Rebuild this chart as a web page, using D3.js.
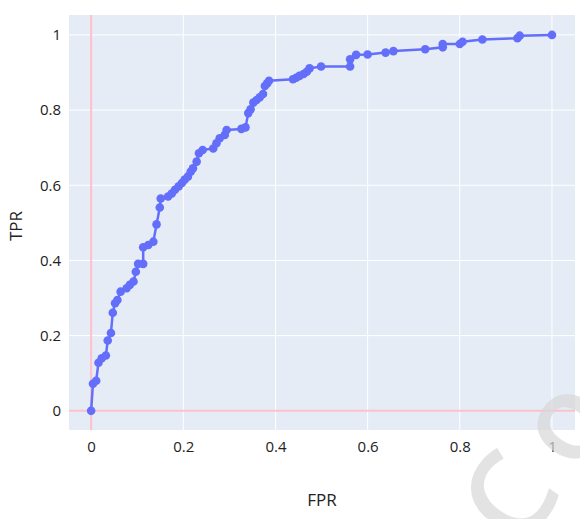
<!DOCTYPE html>
<html>
<head>
<meta charset="utf-8">
<script src="https://cdn.jsdelivr.net/npm/d3@7"></script>
<style>
  body { margin: 0; background: #fff; }
  text { font-family: "Open Sans", sans-serif; }
</style>
</head>
<body>
<svg id="chart"></svg>
<script>
// ROC curve points
const fpr = [0, 0.004, 0.011, 0.016, 0.023, 0.032, 0.036, 0.043, 0.047, 0.052, 0.057, 0.064,
  0.077, 0.084, 0.092, 0.097, 0.102, 0.113, 0.113, 0.124, 0.135, 0.142, 0.149, 0.151,
  0.167, 0.175, 0.182, 0.190, 0.197, 0.203, 0.210, 0.216, 0.221, 0.229, 0.234, 0.242,
  0.265, 0.272, 0.279, 0.290, 0.294, 0.326, 0.335, 0.341, 0.346, 0.352, 0.359, 0.366,
  0.373, 0.377, 0.382, 0.386, 0.438, 0.445, 0.452, 0.461, 0.468, 0.474, 0.499, 0.562,
  0.562, 0.575, 0.600, 0.639, 0.656, 0.725, 0.763, 0.763, 0.800, 0.806, 0.849, 0.925,
  0.930, 1];
const tpr = [0, 0.072, 0.080, 0.128, 0.140, 0.147, 0.187, 0.207, 0.261, 0.286, 0.295, 0.317,
  0.326, 0.335, 0.344, 0.370, 0.391, 0.391, 0.435, 0.441, 0.450, 0.496, 0.541, 0.565,
  0.570, 0.578, 0.588, 0.597, 0.606, 0.615, 0.623, 0.636, 0.645, 0.663, 0.685, 0.694,
  0.698, 0.712, 0.725, 0.734, 0.747, 0.750, 0.754, 0.792, 0.802, 0.820, 0.827, 0.834,
  0.843, 0.864, 0.871, 0.878, 0.882, 0.886, 0.891, 0.896, 0.902, 0.911, 0.916, 0.916,
  0.935, 0.947, 0.948, 0.953, 0.957, 0.962, 0.967, 0.976, 0.976, 0.982, 0.988, 0.991,
  0.998, 1];
const xTicks = [0, 0.2, 0.4, 0.6, 0.8, 1];
const yTicks = [0, 0.2, 0.4, 0.6, 0.8, 1];

const width = 580, height = 519;
const margin = { top: 15, right: 5, bottom: 89, left: 69 };
const innerW = width - margin.left - margin.right;
const innerH = height - margin.top - margin.bottom;

const svg = d3.select('#chart').attr('width', width).attr('height', height);
const chart = svg.append('g').attr('transform', `translate(${margin.left},${margin.top})`);

const x = d3.scaleLinear().domain([-0.048, 1.050]).range([0, innerW]);
const y = d3.scaleLinear().domain([-0.051, 1.053]).range([innerH, 0]);

chart.append('rect').attr('width', innerW).attr('height', innerH).attr('fill', '#E5ECF6');

// grid
chart.selectAll('.gx').data(xTicks.filter(d => d !== 0)).enter().append('line')
  .attr('x1', d => x(d)).attr('x2', d => x(d)).attr('y1', 0).attr('y2', innerH)
  .attr('stroke', '#fff').attr('stroke-width', 1);
chart.selectAll('.gy').data(yTicks.filter(d => d !== 0)).enter().append('line')
  .attr('y1', d => y(d)).attr('y2', d => y(d)).attr('x1', 0).attr('x2', innerW)
  .attr('stroke', '#fff').attr('stroke-width', 1);

// zero lines
chart.append('line').attr('x1', x(0)).attr('x2', x(0)).attr('y1', 0).attr('y2', innerH)
  .attr('stroke', 'pink').attr('stroke-width', 2);
chart.append('line').attr('y1', y(0)).attr('y2', y(0)).attr('x1', 0).attr('x2', innerW)
  .attr('stroke', 'pink').attr('stroke-width', 2);

// axes
const xAxis = d3.axisBottom(x).tickValues(xTicks).tickSize(0).tickPadding(8)
  .tickFormat(d => d3.format('')(d));
const yAxis = d3.axisLeft(y).tickValues(yTicks).tickSize(0).tickPadding(8)
  .tickFormat(d => d3.format('')(d));
const xg = chart.append('g').attr('transform', `translate(0,${innerH})`).call(xAxis);
const yg = chart.append('g').call(yAxis);
[xg, yg].forEach(g => {
  g.select('.domain').remove();
  g.selectAll('text').attr('font-family', '"Open Sans", sans-serif')
    .attr('font-size', 15).attr('fill', '#222');
});
xg.selectAll('text').attr('dy', '0.95em');

// curve
const pts = fpr.map((d, i) => [d, tpr[i]]);
chart.append('path').datum(pts)
  .attr('d', d3.line().x(d => x(d[0])).y(d => y(d[1])))
  .attr('fill', 'none').attr('stroke', '#636EFA').attr('stroke-width', 2.5);
chart.selectAll('.pt').data(pts).enter().append('circle')
  .attr('cx', d => x(d[0])).attr('cy', d => y(d[1])).attr('r', 4.3)
  .attr('fill', '#636EFA');

// axis titles
svg.append('text').attr('x', margin.left + innerW / 2).attr('y', 506)
  .attr('text-anchor', 'middle').attr('font-size', 17).attr('fill', '#222').text('FPR');
svg.append('text').attr('transform', `translate(22,226) rotate(-90)`)
  .attr('text-anchor', 'middle').attr('font-size', 17).attr('fill', '#222').text('TPR');

// watermark
svg.append('text').attr('transform', 'translate(522,552) rotate(-55)')
  .attr('font-size', 118).attr('font-weight', 600).attr('fill', '#d8d8d8')
  .attr('letter-spacing', 20).attr('opacity', 0.7).text('Co');
</script>
</body>
</html>
